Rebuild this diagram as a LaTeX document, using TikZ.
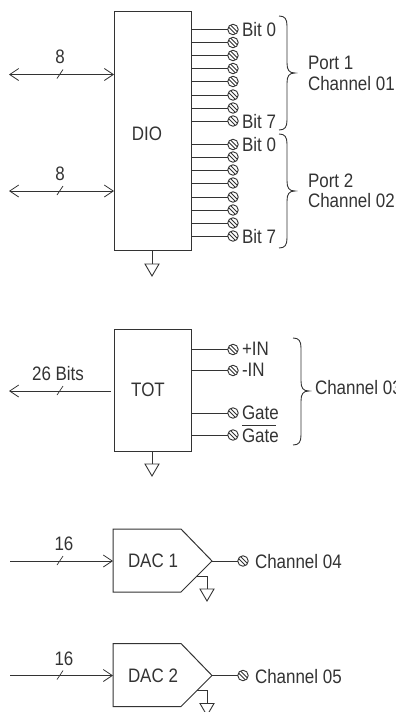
\documentclass[tikz,border=0pt]{standalone}
\usepackage{fontspec}
\setmainfont[FakeStretch=0.87]{Liberation Sans}
\usetikzlibrary{arrows.meta}
\definecolor{ink}{HTML}{333333}
\tikzset{
  every node/.style={text=ink,font=\fontsize{19.5}{19.5}\selectfont,inner sep=0pt,outer sep=0pt},
  wire/.style={draw=ink,line width=0.9pt},
  open/.style={{Straight Barb[length=9pt,width=12pt,line width=0.8pt]}-},
  opened/.style={-{Straight Barb[length=9pt,width=12pt,line width=0.8pt]}},
  both/.style={{Straight Barb[length=9pt,width=12pt,line width=0.8pt]}-{Straight Barb[length=9pt,width=12pt,line width=0.8pt]}},
  block/.style={draw=ink,line width=1pt,minimum width=77.5pt,anchor=north west},
  screw/.style={circle,draw=ink,line width=0.9pt,minimum size=10.5pt,
    path picture={\draw[ink,line width=0.9pt]
      ([shift={(-5pt,3pt)}]path picture bounding box.center)--([shift={(3pt,-5pt)}]path picture bounding box.center)
      ([shift={(-3pt,5pt)}]path picture bounding box.center)--([shift={(5pt,-3pt)}]path picture bounding box.center);}},
  lbl/.style={anchor=west},
  gnd/.style={draw=ink,line width=0.9pt,line join=miter}
}
\newcommand{\mybrace}[4]{% x, top, tip, bottom
  \draw[wire] (#1,#2) .. controls (#1+6,#2) and (#1+8,#2+3) .. (#1+8,#2+10)
    -- (#1+8,#3-10) .. controls (#1+8,#3-3) and (#1+10,#3) .. (#1+16,#3)
    .. controls (#1+10,#3) and (#1+8,#3+3) .. (#1+8,#3+10)
    -- (#1+8,#4-10) .. controls (#1+8,#4-3) and (#1+6,#4) .. (#1,#4);}
\newcommand{\myground}[2]{% apex x, top y
  \draw[gnd] (#1-7,#2)--(#1+7,#2)--(#1,#2+12)--cycle;}
\newcommand{\myslash}[2]{\draw[wire,line width=0.7pt] (#1-3,#2+4)--(#1+3,#2-5);}
\begin{document}
\begin{tikzpicture}[x=1pt,y=-1pt]
\useasboundingbox (0,0) rectangle (396,712);
\clip (0,0) rectangle (396,712);
% DIO
\node[block,minimum height=239pt] (dio) at (114,11.5) {};
\node at (147,134) {DIO};
\coordinate (dioa) at (9,74.5);
\coordinate (diob) at (9,191);
\draw[wire,both] (dioa) -- (dioa -| dio.west);
\draw[wire,both] (diob) -- (diob -| dio.west);
\myslash{60}{74.5}\myslash{60}{191}
\node (d8a) at (60,57) {8};
\node (d8b) at (60,174) {8};
\foreach \n/\y in {a/29.5,b/42.5,c/55.5,d/68.5,e/81.5,f/95,g/108,h/121,
                   i/144.5,j/157,k/170,l/183,m/197,n/210,o/223,p/236}{
  \node[screw] (s\n) at (233,\y) {};
  \draw[wire] (s\n -| dio.east) -- (s\n);
}
\node[lbl] (b0a) at (242,29.5) {Bit 0};
\node[lbl] (b7a) at (242,122) {Bit 7};
\node[lbl] (b0b) at (242,145) {Bit 0};
\node[lbl] (b7b) at (242,237) {Bit 7};
\mybrace{279}{16}{73}{130}
\mybrace{279}{134}{191}{248}
\node[lbl] (p1) at (308,63) {Port 1};
\node[lbl] (c1) at (308,84) {Channel 01};
\node[lbl] (p2) at (308,181) {Port 2};
\node[lbl] (c2) at (308,201) {Channel 02};
\coordinate (dg) at (152,264);
\draw[wire] (dg |- dio.south) -- (dg);
\myground{152}{264}
% TOT
\node[block,minimum height=122.5pt] (tot) at (114,329) {};
\node at (148,390) {TOT};
\coordinate (tl) at (9,391);
\coordinate (tr) at (111,391);
\draw[wire,open] (tl) -- (tr);
\myslash{60}{391}
\node (bits) at (58,374) {26 Bits};
\foreach \n/\y in {a/349.5,b/370.5,c/413,d/435}{
  \node[screw] (t\n) at (233,\y) {};
  \draw[wire] (t\n -| tot.east) -- (t\n);
}
\node[lbl] (pin) at (242,349) {+IN};
\node[lbl] (min) at (242,370) {-IN};
\node[lbl] (g1) at (242,413) {Gate};
\node[lbl] (g2) at (242,436) {Gate};
\draw[wire] (242,425)--(276,425);
\mybrace{293}{338}{391}{445}
\node[lbl] (c3) at (315,388) {Channel 03};
\coordinate (tg) at (152,464);
\draw[wire] (tg |- tot.south) -- (tg);
\myground{152}{464}
% DACs
\foreach \k/\o/\c in {1/0/04,2/114.5/05}{
  \begin{scope}[yshift=-\o pt]
  \draw[draw=ink,line width=1pt,line join=miter] (113,529)--(181,529)--(212,561)--(181,592)--(113,592)--cycle;
  \coordinate (dw\k) at (113,561);
  \coordinate (di\k) at (10,561);
  \coordinate (dt\k) at (212,561);
  \draw[wire,opened] (di\k) -- (dw\k);
  \myslash{60}{561}
  \node (n\k) at (64,544) {16};
  \node[lbl] (dac\k) at (128,561) {DAC \k};
  \node[screw] (ds\k) at (243,561) {};
  \draw[wire] (dt\k) -- (ds\k);
  \node[lbl] (ch\k) at (255,562) {Channel \c};
  \draw[wire] (197,576)--(207,576)--(207,589);
  \myground{207}{589}
  \end{scope}
}
\end{tikzpicture}
\end{document}
